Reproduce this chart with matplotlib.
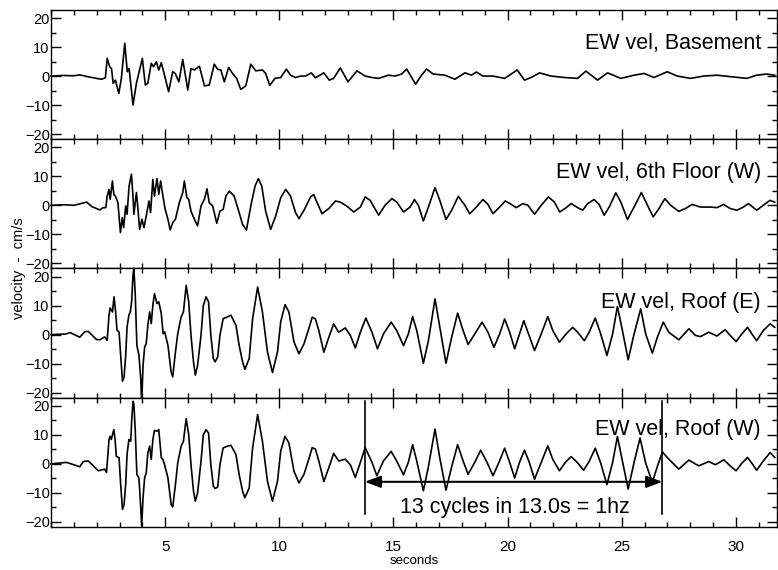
import numpy as np
import matplotlib
matplotlib.use("Agg")
import matplotlib.pyplot as plt
from matplotlib.ticker import MultipleLocator

plt.rcParams['font.family'] = ['Liberation Sans Narrow', 'Liberation Sans', 'DejaVu Sans']

## datos: tiempo (s) y velocidad (cm/s)

t_base = [0.0, 0.5, 1.0, 1.26, 1.6, 1.99, 2.21, 2.38, 2.46, 2.57, 2.65, 2.72, 2.82, 2.97, 3.08, 3.23, 3.34, 3.42,
          3.59, 3.74, 4.00, 4.13, 4.24, 4.39, 4.49, 4.61, 4.72, 4.83, 4.97, 5.15, 5.33, 5.44, 5.60, 5.77, 5.99,
          6.13, 6.28, 6.50, 6.72, 6.93, 7.15, 7.30, 7.44, 7.59, 7.78, 7.95, 8.13, 8.31, 8.53, 8.75, 8.97, 9.26,
          9.40, 9.58, 9.81, 10.06, 10.31, 10.49, 10.71, 10.93, 11.15, 11.40, 11.58, 11.95, 12.19, 12.38, 12.67,
          13.01, 13.40, 13.76, 14.06, 14.35, 14.78, 15.07, 15.36, 15.58, 15.97, 16.23, 16.45, 16.74, 17.25,
          17.69, 18.13, 18.42, 18.63, 18.92, 19.36, 19.87, 20.42, 20.74, 21.03, 21.40, 21.90, 22.49, 23.06,
          23.43, 23.94, 24.38, 24.96, 25.54, 25.98, 26.41, 26.99, 27.43, 28.01, 28.59, 29.17, 29.75, 30.48,
          30.91, 31.35, 31.70]
v_base = [0.0, 0.2, 0.1, 0.4, -0.2, -0.8, -1.1, -0.6, 6.1, 3.2, 2.6, -2.5, -1.4, -6.0, -0.8, 11.3, 1.5, 2.6,
          -10.0, -2.5, 6.1, -3.1, -2.5, 4.4, 3.2, 4.9, 2.1, 4.6, 0.3, -5.4, 1.5, 0.9, -2.0, 5.7, -4.8,
          2.6, 2.1, 3.4, -3.4, -3.1, 4.1, 2.3, 2.1, -2.0, 3.0, 0.9, -0.8, -4.6, -3.4, 4.1, 1.8, 2.1,
          0.9, -3.2, -0.8, -0.5, 2.4, 0.3, -0.5, 0.0, 0.0, 1.1, -0.6, 1.1, -1.4, -0.8, 2.8,
          -2.0, 1.8, 0.0, -0.5, -0.8, 0.3, 0.0, 0.7, 2.4, -2.8, 0.3, 2.4, 0.7, 0.3,
          -1.1, 1.1, 0.3, 1.4, 0.0, 0.0, -0.8, 2.1, -1.4, -0.5, 1.1, 0.0, -0.5, -0.8,
          1.7, -1.4, 1.1, -0.8, 0.3, 0.9, -0.5, 1.5, 0.0, -0.8, 0.0, 0.3, -0.2, -0.8,
          0.3, 0.7, 0.3]

t_6th = [0.0, 0.6, 1.0, 1.56, 1.8, 2.14, 2.28, 2.40, 2.46, 2.54, 2.59, 2.69, 2.75, 2.83, 2.93, 3.04, 3.12, 3.18,
         3.27, 3.33, 3.42, 3.52, 3.59, 3.63, 3.74, 3.81, 3.88, 3.98, 4.07, 4.17, 4.29, 4.36, 4.46, 4.53, 4.64,
         4.72, 4.80, 4.90, 5.00, 5.12, 5.22, 5.33, 5.45, 5.62, 5.77, 5.84, 5.95, 6.03, 6.13, 6.28, 6.42, 6.57,
         6.72, 6.83, 6.93, 7.08, 7.26, 7.40, 7.54, 7.66, 7.81, 8.02, 8.24, 8.39, 8.56, 8.75, 8.94, 9.08, 9.23,
         9.40, 9.62, 9.84, 10.06, 10.28, 10.49, 10.71, 10.86, 11.08, 11.37, 11.51, 11.58, 11.87, 12.17, 12.46,
         12.67, 12.96, 13.26, 13.55, 13.76, 13.98, 14.35, 14.63, 14.93, 15.15, 15.44, 15.73, 15.92, 16.09,
         16.31, 16.53, 16.82, 17.03, 17.30, 17.55, 17.84, 18.13, 18.34, 18.63, 18.92, 19.14, 19.36, 19.65,
         19.90, 20.16, 20.38, 20.67, 20.89, 21.18, 21.47, 21.79, 22.05, 22.28, 22.57, 22.78, 23.07, 23.29,
         23.51, 23.79, 24.01, 24.23, 24.45, 24.74, 24.96, 25.25, 25.54, 25.86, 26.09, 26.38, 26.63, 26.89,
         27.14, 27.50, 27.79, 28.08, 28.45, 28.88, 29.17, 29.46, 29.75, 30.04, 30.33, 30.55, 30.91, 31.20,
         31.49, 31.70]
v_6th = [0.0, 0.2, 0.0, 1.1, -0.5, -1.6, -0.8, -0.8, 3.2, 5.5, 2.1, 8.4, 3.8, 3.0, 0.9, -9.4, -4.3, -7.7,
         -0.2, -3.1, 6.7, 10.7, 3.2, -3.1, 4.4, -1.4, -8.3, -4.8, -7.7, -3.7, 1.5, -2.5, 9.0, 3.2, 9.2,
         3.8, 8.4, 3.2, -1.4, -4.8, -8.5, -6.0, -4.8, 0.9, 4.4, 8.4, 2.6, 2.1, -2.0, -4.8, -7.1, -0.2,
         2.1, 5.7, 0.9, -0.2, -6.2, -2.0, -1.4, 3.2, 4.9, 3.2, -2.5, -6.6, -8.5, -0.2, 6.7, 9.2, 6.7,
         -2.0, -8.3, -3.7, 2.6, 5.5, 3.2, -2.5, -4.6, -1.7, 2.9, 3.7, 2.3, -2.9, -1.1, 1.5,
         1.1, -0.3, -2.3, -0.6, 2.9, 1.7, -3.4, 0.0, 2.3, 1.1, -2.3, -0.6, 2.0, 0.0,
         -5.4, -0.6, 6.1, 1.7, -4.9, -1.7, 3.1, 0.0, -2.9, -0.6, 2.0, 0.3, -2.9, -0.6,
         1.5, 0.3, -0.8, 0.6, 0.0, -3.1, 0.0, 2.9, 1.1, -2.3, -0.8, 0.6, -0.8, -1.7,
         0.6, 2.0, 0.3, -3.4, -0.6, 4.3, 1.1, -4.9, -0.6, 4.4, 0.6, -4.0, -1.1, 2.3,
         0.0, -2.1, -1.1, 0.3, -0.6, -0.6, -0.8, 0.3, -1.1, -1.7, -0.6, 0.6, -1.7, 0.0,
         1.7, 1.1]

t_roofE = [0.0, 0.65, 0.83, 1.26, 1.48, 1.63, 1.99, 2.14, 2.35, 2.46, 2.54, 2.59, 2.69, 2.76, 2.83, 2.89, 2.98,
           3.05, 3.13, 3.20, 3.27, 3.33, 3.41, 3.47, 3.53, 3.59, 3.63, 3.69, 3.76, 3.85, 3.93, 3.97, 4.03, 4.10,
           4.17, 4.24, 4.32, 4.39, 4.46, 4.53, 4.64, 4.72, 4.83, 4.91, 4.98, 5.12, 5.26, 5.33, 5.45, 5.55, 5.70,
           5.80, 5.92, 6.03, 6.13, 6.24, 6.32, 6.42, 6.57, 6.67, 6.79, 6.90, 7.00, 7.11, 7.19, 7.30, 7.40, 7.54,
           7.73, 7.88, 8.10, 8.24, 8.39, 8.49, 8.68, 8.83, 9.05, 9.26, 9.48, 9.70, 9.92, 10.06, 10.25, 10.42,
           10.64, 10.86, 11.08, 11.29, 11.44, 11.58, 11.73, 11.95, 12.17, 12.38, 12.60, 12.89, 13.11, 13.33,
           13.55, 13.79, 14.06, 14.30, 14.56, 14.90, 15.14, 15.44, 15.65, 15.84, 16.02, 16.31, 16.53, 16.82,
           17.03, 17.30, 17.55, 17.81, 18.05, 18.27, 18.56, 18.88, 19.14, 19.40, 19.65, 19.87, 20.09, 20.31,
           20.52, 20.71, 20.89, 21.18, 21.47, 21.76, 21.98, 22.27, 22.56, 22.85, 23.07, 23.36, 23.57, 23.84,
           24.08, 24.35, 24.60, 24.81, 25.03, 25.28, 25.54, 25.83, 26.05, 26.34, 26.56, 26.82, 27.06, 27.50,
           27.94, 28.23, 28.45, 28.81, 29.17, 29.53, 29.75, 30.01, 30.26, 30.51, 30.70, 30.91, 31.20, 31.50,
           31.70]
v_roofE = [0.0, 0.2, 0.7, -0.9, 1.0, 1.1, -1.7, -1.8, -0.8, -2.0, 6.7, 9.2, 7.8, 13.0, 7.8, 1.5, 0.9,
           -7.1, -16.1, -14.6, -7.1, 2.6, 6.7, 7.8, 11.3, 20.5, 22.8, 13.6, -3.7, -7.1, -15.2, -24.0, -10.6, -4.3,
           -3.1, 3.2, 7.8, 3.8, 10.1, 14.1, 10.7, 11.3, 7.2, 0.3, 0.9, -3.7, -12.9, -14.6, -6.0, 0.3, 6.1,
           7.8, 17.0, 11.3, -0.2, -9.4, -14.0, -10.6, -0.2, 10.0, 13.0, 11.3, -0.2, -8.3, -9.4, -7.7, -0.2, 5.5,
           6.1, 6.7, 3.2, -3.7, -9.4, -12.0, -8.3, 5.5, 16.4, 7.8, -6.0, -13.1, -6.0, 4.4, 10.3, 7.8,
           -2.5, -6.6, -3.2, 2.0, 6.0, 5.4, 1.4, -6.1, -0.9, 3.7, 0.8, 2.3, -0.3, -4.6,
           0.8, 5.7, 0.8, -4.9, 0.2, 4.3, 1.4, -3.8, 0.2, 6.2, 1.4, -9.9, -2.1, 12.3,
           2.5, -9.9, -0.9, 7.4, 1.4, -3.4, 0.2, 4.3, 0.8, -4.4, 0.2, 5.4, 0.8, -4.9,
           0.2, 4.8, 0.8, -5.5, 0.2, 6.2, 1.4, -2.6, 0.2, 2.5, 0.8, -2.1, 0.8, 5.7,
           0.2, -7.2, 0.2, 9.7, 1.4, -8.7, 0.2, 8.9, 0.2, -6.4, -0.9, 4.3, 0.8, -1.8,
           2.0, -0.3, -0.7, 0.8, -0.5, 1.7, -0.3, -2.4, 0.2, 2.5, 0.2, -2.1, 1.4, 3.7,
           2.5]

t_roofW = [0.0, 0.68, 1.26, 1.41, 1.63, 2.07, 2.35, 2.43, 2.54, 2.59, 2.64, 2.75, 2.80, 2.86, 2.98, 3.05, 3.13,
           3.20, 3.27, 3.33, 3.41, 3.49, 3.54, 3.59, 3.63, 3.69, 3.76, 3.85, 3.93, 3.97, 4.03, 4.10, 4.17, 4.24,
           4.32, 4.39, 4.46, 4.53, 4.64, 4.72, 4.83, 4.90, 4.97, 5.12, 5.26, 5.33, 5.45, 5.55, 5.70, 5.80, 5.92,
           6.03, 6.13, 6.24, 6.32, 6.42, 6.57, 6.67, 6.79, 6.90, 7.00, 7.11, 7.19, 7.30, 7.40, 7.54, 7.73, 7.88,
           8.10, 8.24, 8.39, 8.49, 8.68, 8.83, 9.05, 9.26, 9.48, 9.70, 9.92, 10.06, 10.25, 10.42, 10.64, 10.86,
           11.08, 11.29, 11.44, 11.58, 11.73, 11.95, 12.17, 12.38, 12.60, 12.89, 13.11, 13.33, 13.55, 13.76,
           14.06, 14.27, 14.56, 14.90, 15.14, 15.44, 15.65, 15.84, 16.02, 16.31, 16.53, 16.82, 17.03, 17.30,
           17.55, 17.81, 18.05, 18.27, 18.56, 18.82, 19.10, 19.36, 19.62, 19.87, 20.09, 20.31, 20.52, 20.74,
           20.95, 21.18, 21.47, 21.76, 21.98, 22.27, 22.53, 22.78, 23.05, 23.33, 23.57, 23.84, 24.08, 24.35,
           24.60, 24.81, 25.03, 25.28, 25.54, 25.80, 26.05, 26.34, 26.56, 26.78, 27.06, 27.50, 27.94, 28.37,
           28.81, 29.10, 29.47, 29.75, 30.01, 30.26, 30.51, 30.70, 30.91, 31.20, 31.50, 31.70]
v_roofW = [0.0, 0.5, -1.0, 0.8, 1.0, -2.4, -1.8, -3.0, 8.4, 9.5, 8.4, 11.8, 8.9, 2.6, 2.1, -7.1, -15.7,
           -14.0, -7.1, 3.2, 8.4, 7.8, 15.9, 21.6, 20.5, 11.3, -3.7, -4.8, -15.2, -21.5, -11.7, -4.8, -3.1, 3.8,
           6.1, 1.5, 8.4, 11.5, 11.3, 11.8, 2.1, 1.5, -0.2, -4.8, -14.0, -14.9, -7.1, 0.3, 6.1, 7.8, 15.6,
           10.1, -0.2, -9.4, -12.9, -10.0, 0.9, 10.0, 11.8, 10.6, -0.2, -7.7, -8.5, -8.0, -0.2, 5.5, 6.1, 6.4,
           3.2, -3.7, -9.4, -11.7, -8.3, 5.5, 17.0, 7.8, -6.0, -12.9, -6.0, 4.4, 9.5, 7.2, -2.5, -6.6,
           -3.6, 1.6, 5.6, 5.1, 1.0, -6.1, -1.3, 3.6, 1.0, 1.6, -0.3, -4.7, 0.5, 5.6,
           0.5, -4.1, 1.0, 4.3, 1.0, -3.8, 0.5, 6.6, 1.0, -9.3, -1.0, 12.0, 2.0, -9.1,
           -1.0, 6.6, 1.0, -3.6, 0.5, 4.7, 0.5, -4.1, 0.5, 5.4, 0.5, -4.9, 0.5, 4.7,
           0.5, -5.3, 0.5, 6.2, 1.5, -2.4, 0.5, 2.5, 0.5, -2.2, 0.8, 5.4, 0.2, -7.2,
           0.5, 9.4, 1.0, -8.7, 0.5, 8.9, 0.2, -6.4, -0.9, 4.1, 1.6, -1.8, 1.3, -0.7,
           0.8, -0.3, 1.4, -0.7, -2.4, 0.2, 2.2, 0.2, -2.2, 1.0, 3.9, 2.2]

etiquetas = ["EW vel, Basement", "EW vel, 6th Floor (W)", "EW vel, Roof (E)", "EW vel, Roof (W)"]
alturas = [11.4, 11.4, 11.0, 12.0]
x_marcas = [5, 10, 15, 20, 25, 30]
y_marcas = [-20, -10, 0, 10, 20]

## marcas de los 13 ciclos
t_inicio = 13.74
t_fin = 26.78
texto_ciclos = "13 cycles in 13.0s = 1hz"

tiempos = [t_base, t_6th, t_roofE, t_roofW]
velocidades = [v_base, v_6th, v_roofE, v_roofW]

## grafica

fig, axs = plt.subplots(4, 1, sharex=True, figsize=(7.78, 5.70), dpi=100)
fig.subplots_adjust(left=0.0656, right=0.9987, top=0.9825, bottom=0.0754, hspace=0)

for i in range(4):
    ax = axs[i]
    ax.plot(tiempos[i], velocidades[i], c="k", lw=1.2, clip_on=False, zorder=3, solid_joinstyle="round")
    ax.set_xlim(0, 31.8)
    ax.set_ylim(-21.8, 22.8)
    ax.set_yticks(y_marcas)
    ax.set_xticks(x_marcas)
    ax.yaxis.set_minor_locator(MultipleLocator(5))
    ax.xaxis.set_minor_locator(MultipleLocator(1))
    ax.tick_params(which="both", direction="in", top=True, right=True, width=1)
    ax.tick_params(which="major", length=7)
    ax.tick_params(which="minor", length=3.5)
    ax.tick_params(axis="y", labelsize=10.5, pad=1)
    ax.tick_params(axis="x", labelsize=11, pad=9)
    for s in ax.spines.values():
        s.set_linewidth(1)
    ax.text(31.1, alturas[i], etiquetas[i], ha="right", va="center", fontsize=15.5,
            family=["Liberation Sans", "DejaVu Sans"])

ax = axs[3]
ax.plot([t_inicio, t_inicio], [-17.2, 21.7], c="k", lw=1.2)
ax.plot([t_fin, t_fin], [-17.2, 21.7], c="k", lw=1.2)
ax.annotate("", xy=(t_inicio, -6.2), xytext=(t_fin, -6.2),
            arrowprops=dict(arrowstyle="<|-|>,head_length=0.8,head_width=0.3", color="k", lw=1.5,
                            mutation_scale=12, shrinkA=0, shrinkB=0))
ax.text(20.3, -15.2, texto_ciclos, ha="center", va="center", fontsize=15.5,
        family=["Liberation Sans", "DejaVu Sans"])
ax.set_xlabel("seconds", fontsize=9.5, labelpad=1)

fig.text(0.024, 1 - 268 / 570.0, "velocity  -  cm/s", rotation=90, ha="center", va="center", fontsize=10.5)

plt.savefig("out.png", dpi=100)
plt.close()
